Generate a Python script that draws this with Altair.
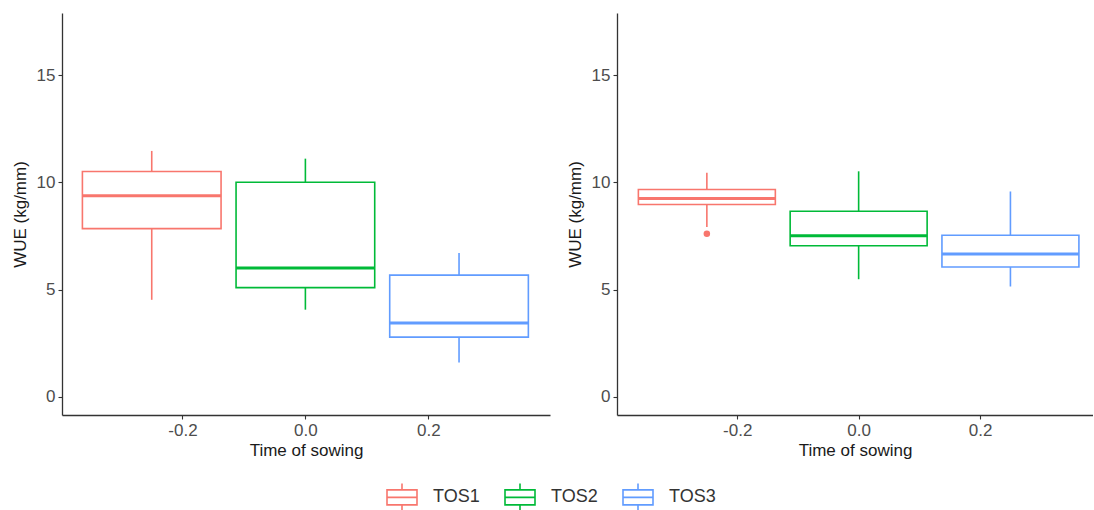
import altair as alt
import pandas as pd

# ---- data ----
series = ["TOS1", "TOS2", "TOS3"]
x_pos = [-0.25, 0.0, 0.25]
colors = ["#F8766D", "#00BA38", "#619CFF"]

# left panel
p1_low = [4.53, 4.07, 1.61]
p1_q1 = [7.85, 5.10, 2.79]
p1_med = [9.38, 6.01, 3.45]
p1_q3 = [10.51, 10.01, 5.68]
p1_high = [11.47, 11.11, 6.71]
p1_out_series = []
p1_out_x = []
p1_out_val = []

# right panel
p2_low = [7.92, 5.49, 5.15]
p2_q1 = [8.97, 7.05, 6.06]
p2_med = [9.25, 7.52, 6.66]
p2_q3 = [9.67, 8.66, 7.54]
p2_high = [10.45, 10.52, 9.58]
p2_out_series = ["TOS1"]
p2_out_x = [-0.25]
p2_out_val = [7.61]

y_ticks = [0, 5, 10, 15]
x_ticks = [-0.2, 0.0, 0.2]

FONT = "Liberation Sans"
HALF = 0.1128
BOX_PATH = "M-1,-0.5H1V0.5H-1Z M-1,0H1 M0,-0.5V-0.93 M0,0.5V0.93"

PAD_L, PAD_T = 11, 13
ORIGIN_X = 62  # first plot's left edge

color_scale = alt.Scale(domain=series, range=colors)
stroke_enc = alt.Stroke(
    "series:N",
    scale=color_scale,
    legend=alt.Legend(
        title=None,
        orient="none",
        legendX=386 - ORIGIN_X,
        legendY=481 - PAD_T,
        direction="horizontal",
        symbolType=BOX_PATH,
        symbolSize=900,
        symbolStrokeWidth=1.6,
        symbolFillColor="transparent",
        symbolOpacity=1,
        labelFont=FONT,
        labelFontSize=18,
        labelColor="#333333",
        labelOffset=15,
        columnPadding=21,
        padding=0,
    ),
)


def panel(low, q1, med, q3, high, out_s, out_x, out_v, width, xdom):
    df = pd.DataFrame({"series": series, "x": x_pos, "low": low, "q1": q1,
                       "med": med, "q3": q3, "high": high})
    base = alt.Chart(df).transform_calculate(
        xl=f"datum.x - {HALF}", xr=f"datum.x + {HALF}")
    xs = alt.Scale(domain=xdom, nice=False, zero=False)
    ys = alt.Scale(domain=[-0.84, 17.9], nice=False, zero=False)
    xa = alt.Axis(values=x_ticks, title="Time of sowing",
                  labelExpr="datum.value < 0 ? '-' + format(abs(datum.value), '.1f') : format(datum.value, '.1f')")
    ya = alt.Axis(values=y_ticks, title="WUE (kg/mm)")

    wl = base.mark_rule(strokeWidth=1.6).encode(
        x=alt.X("x:Q", scale=xs, axis=xa),
        y=alt.Y("low:Q", scale=ys, axis=ya), y2="q1:Q", stroke=stroke_enc)
    wh = base.mark_rule(strokeWidth=1.6).encode(
        x=alt.X("x:Q", scale=xs, axis=xa),
        y=alt.Y("q3:Q", scale=ys, axis=ya), y2="high:Q", stroke=stroke_enc)
    box = base.mark_rect(filled=False, strokeWidth=1.6).encode(
        x=alt.X("xl:Q", scale=xs, axis=xa), x2="xr:Q",
        y=alt.Y("q1:Q", scale=ys, axis=ya), y2="q3:Q", stroke=stroke_enc)
    md = base.mark_rule(strokeWidth=3).encode(
        x=alt.X("xl:Q", scale=xs, axis=xa), x2="xr:Q",
        y=alt.Y("med:Q", scale=ys, axis=ya), stroke=stroke_enc)
    layers = [wl, wh, box, md]
    if out_s:
        odf = pd.DataFrame({"series": out_s, "x": out_x, "v": out_v})
        # outlier drawn as a round-capped zero-length stroke (a solid dot)
        pts = alt.Chart(odf).mark_rule(strokeWidth=6.5, strokeCap="round", opacity=1).encode(
            x=alt.X("x:Q", scale=xs, axis=xa),
            y=alt.Y("v:Q", scale=ys, axis=ya), y2="v:Q",
            stroke=stroke_enc)
        layers.append(pts)
    return alt.layer(*layers).properties(width=width, height=402)


left = panel(p1_low, p1_q1, p1_med, p1_q3, p1_high,
             p1_out_series, p1_out_x, p1_out_val, 488, [-0.396, 0.398])
right = panel(p2_low, p2_q1, p2_med, p2_q3, p2_high,
              p2_out_series, p2_out_x, p2_out_val, 476, [-0.398, 0.386])

chart = (
    alt.hconcat(left, right, spacing=16)
    .properties(padding={"left": PAD_L, "top": PAD_T, "right": 0, "bottom": 0},
                background="white")
    .configure_view(strokeWidth=0)
    .configure_legend(symbolFillColor="transparent")
    .configure_axis(
        grid=False,
        domainColor="#333333", domainWidth=1.3,
        tickColor="#333333", tickSize=4, tickWidth=1.1,
        labelFont=FONT, labelFontSize=17, labelColor="#4D4D4D", labelPadding=3,
        titleFont=FONT, titleFontSize=17, titleFontWeight="normal", titleColor="#1a1a1a",
    )
    .configure_axisY(titlePadding=7)
    .configure_axisX(titlePadding=4)
)

chart.save("out.html", embed_options={"renderer": "svg", "actions": False})
